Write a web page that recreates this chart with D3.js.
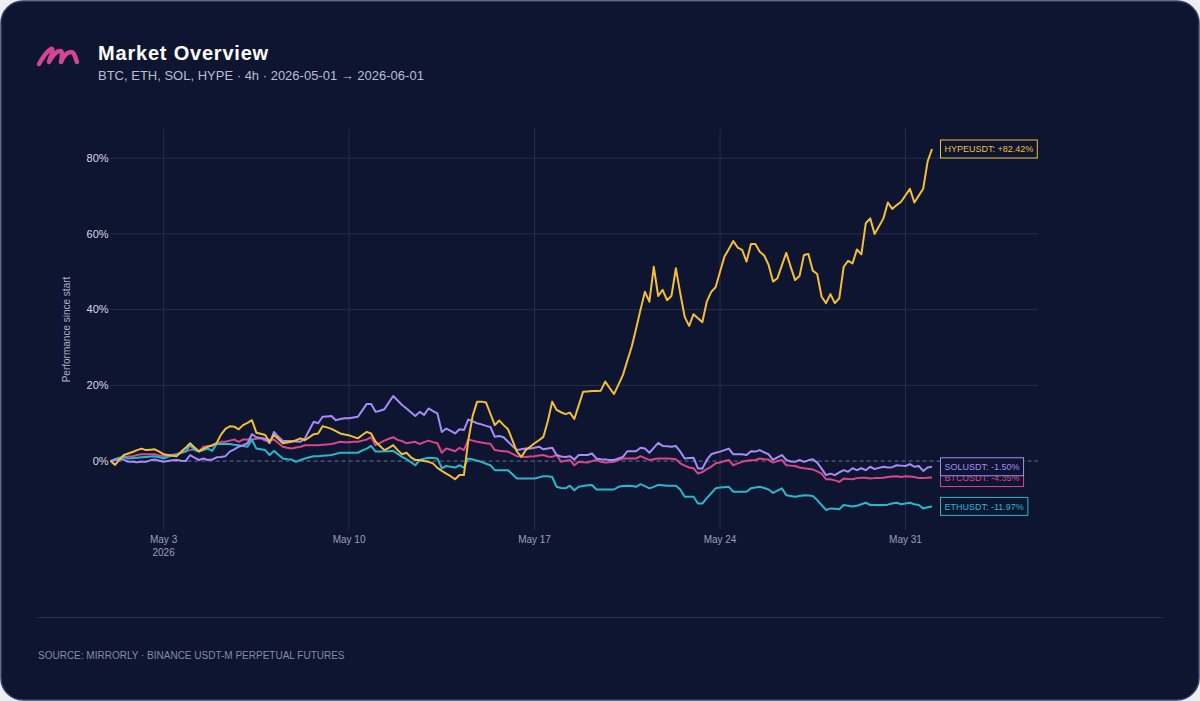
<!DOCTYPE html>
<html>
<head>
<meta charset="utf-8">
<script src="https://cdn.jsdelivr.net/npm/d3@7"></script>
<style>
	html, body { margin: 0; padding: 0; background: #eceef3; }
	svg { display: block; font-family: "Liberation Sans", Arial, Helvetica, sans-serif; }
</style>
</head>
<body>
<svg id="chart" width="1200" height="701"></svg>
<script>
// 4h candles, performance since the first close, in %
const startTime = new Date(2026, 4, 1, 0, 0);
const endDomain = new Date(2026, 5, 5, 0, 0);
const stepHours = 4;

const symbols = ["BTCUSDT", "ETHUSDT", "SOLUSDT", "HYPEUSDT"];
const colours = ["#d9468c", "#2ab7ca", "#a78bfa", "#f4be37"];

const btcValues = [
	0, 0.4, 0.7, 1.0, 1.2, 1.3, 1.6, 1.8, 1.8, 1.8,
	1.8, 1.5, 1.3, 1.5, 1.7, 1.8, 2.2, 2.6, 2.9, 3.2,
	2.5, 3.8, 3.9, 4.0, 4.5, 5.1, 5.1, 5.4, 5.7, 5.1,
	5.7, 5.7, 5.7, 5.9, 6.0, 5.4, 5.6, 5.7, 4.7, 3.8,
	3.5, 3.3, 3.6, 3.8, 4.2, 4.2, 4.2, 4.2, 4.3, 4.4,
	4.5, 4.8, 5.1, 5.0, 5.0, 5.1, 5.1, 5.4, 5.7, 6.3,
	4.2, 4.8, 5.4, 5.9, 6.3, 5.6, 5.3, 4.7, 4.9, 5.1,
	4.5, 5.0, 5.4, 5.0, 4.7, 2.2, 3.3, 3.0, 2.6, 3.5,
	2.9, 5.7, 5.4, 5.1, 4.9, 4.7, 4.6, 2.9, 2.7, 2.6,
	2.5, 1.9, 1.3, 1.2, 1.1, 1.2, 1.3, 1.5, 1.6, 1.2,
	1.1, 1.6, -0.2, 0.1, 0.3, -1.1, -0.2, -0.3, -0.4, 0.0,
	0.3, -0.2, -0.4, -0.3, -0.2, 0.3, 0.7, 0.7, 0.7, 0.7,
	1.3, 0.8, 0.3, 0.5, 0.7, 0.7, 0.7, 0.6, 0.5, -0.6,
	-1.2, -1.7, -1.9, -3.3, -2.9, -2.1, -1.5, -0.6, -0.4, 0.0,
	0.3, -1.1, -0.6, -0.2, 0.1, 0.2, 0.3, 0.7, 0.5, 0.4,
	-0.4, 0.0, 0.3, -1.1, -1.2, -1.3, -1.7, -1.9, -2.0, -2.2,
	-2.7, -3.3, -4.8, -4.8, -5.1, -5.5, -4.6, -4.7, -4.8, -4.5,
	-4.4, -4.4, -4.6, -4.5, -4.5, -4.4, -4.2, -4.1, -4.0, -4.2,
	-4.0, -4.1, -4.2, -4.5, -4.5, -4.4, -4.35
];

const ethValues = [
	0, 0.5, 0.9, 1.1, 0.7, 0.8, 0.9, 1.0, 1.1, 1.2,
	1.3, 1.0, 0.7, 1.1, 1.5, 1.8, 2.2, 2.5, 4.2, 2.9,
	2.5, 2.9, 3.3, 2.7, 4.5, 4.5, 4.5, 4.5, 4.3, 4.2,
	4.0, 3.8, 5.7, 3.3, 3.1, 2.9, 1.6, 2.7, 1.7, 0.7,
	0.5, 0.4, -0.2, 0.3, 0.7, 1.0, 1.3, 1.3, 1.4, 1.5,
	1.6, 1.9, 2.2, 2.2, 2.2, 2.2, 2.2, 2.8, 3.3, 4.0,
	2.5, 2.5, 2.6, 2.6, 2.7, 1.9, 1.1, 0.5, -0.3, -1.1,
	0.3, 0.6, 0.9, 0.8, 0.7, -1.9, -1.3, -1.5, -1.7, -1.1,
	-1.7, 0.7, 0.4, 0.1, -0.2, -0.7, -1.1, -2.4, -2.4, -2.4,
	-2.4, -3.5, -4.6, -4.6, -4.6, -4.6, -4.6, -4.3, -4.0, -4.0,
	-4.2, -6.8, -7.1, -7.2, -6.5, -7.7, -6.8, -6.6, -6.4, -6.3,
	-7.5, -7.5, -7.5, -7.5, -7.5, -6.8, -6.6, -6.5, -6.6, -6.8,
	-6.1, -6.6, -7.2, -6.8, -6.3, -6.4, -6.5, -6.5, -6.5, -7.5,
	-9.4, -9.4, -9.4, -11.2, -11.2, -9.8, -8.5, -7.2, -7.0, -6.9,
	-6.8, -8.1, -8.1, -8.1, -8.1, -7.2, -7.0, -6.8, -7.1, -7.5,
	-8.4, -7.8, -7.2, -9.0, -9.2, -9.4, -9.2, -9.0, -9.1, -9.2,
	-10.3, -11.6, -12.9, -12.5, -12.6, -12.7, -11.6, -11.8, -12.0, -11.8,
	-11.4, -11.0, -11.6, -11.6, -11.6, -11.6, -11.5, -11.2, -11.0, -11.4,
	-11.2, -11.0, -11.4, -11.6, -12.5, -12.2, -11.97
];

const solValues = [
	0, 0.3, 0.5, 0.4, -0.2, -0.2, -0.3, -0.2, -0.2, 0.2,
	0.4, 0.1, -0.2, 0.0, 0.2, 0.3, 0.1, 0.0, 1.6, 0.9,
	0.3, 0.7, 0.3, 0.4, 1.0, 1.1, 1.3, 2.5, 3.1, 3.8,
	4.2, 4.7, 7.1, 6.3, 6.1, 5.9, 4.7, 7.7, 6.4, 5.3,
	5.3, 5.3, 5.2, 5.1, 6.0, 8.2, 10.4, 10.0, 11.7, 11.8,
	11.9, 10.8, 11.1, 11.3, 11.3, 11.5, 11.7, 13.4, 15.1, 15.1,
	13.0, 13.3, 13.7, 15.5, 17.2, 16.0, 14.8, 13.9, 12.9, 11.9,
	13.0, 12.2, 13.9, 13.2, 12.6, 7.7, 8.6, 8.0, 7.3, 8.4,
	8.2, 11.0, 10.5, 10.0, 9.7, 9.3, 9.0, 6.4, 6.6, 6.3,
	5.1, 4.0, 2.9, 3.1, 3.3, 3.3, 3.5, 3.8, 3.1, 3.3,
	3.5, 1.6, 1.2, 1.1, 1.3, 0.4, 1.6, 1.6, 1.6, 2.0,
	0.7, 0.5, 0.4, 0.3, 0.3, 0.7, 1.1, 2.6, 2.6, 2.6,
	3.5, 3.3, 2.2, 3.5, 4.8, 4.0, 3.9, 3.8, 4.0, 2.5,
	0.7, 0.8, 0.9, -1.9, -2.0, 0.3, 1.8, 2.2, 2.5, 2.9,
	3.3, 1.8, 1.8, 1.8, 1.6, 2.6, 2.5, 2.9, 2.3, 1.8,
	0.3, 1.0, 1.6, 0.3, -0.1, -0.2, 0.3, -0.2, 0.2, 0.5,
	-0.4, -2.0, -3.7, -3.3, -3.7, -3.0, -2.4, -2.8, -1.9, -2.4,
	-1.9, -2.4, -1.5, -2.1, -1.8, -1.5, -1.7, -1.6, -1.1, -1.2,
	-1.3, -0.8, -1.5, -1.3, -2.6, -1.7, -1.5
];

const hypeValues = [
	0, -1.0, 0.4, 1.6, 2.0, 2.4, 2.9, 3.3, 2.9, 3.0,
	3.1, 2.5, 1.8, 1.6, 1.4, 1.3, 2.5, 3.5, 4.7, 3.6,
	2.6, 3.2, 3.8, 4.2, 4.7, 7.0, 8.5, 9.2, 9.1, 8.4,
	9.5, 10.1, 10.8, 7.5, 7.2, 6.9, 5.1, 6.9, 5.8, 4.7,
	4.9, 5.1, 5.5, 6.0, 5.5, 6.3, 7.1, 7.3, 9.2, 8.9,
	8.5, 7.9, 7.3, 7.0, 6.8, 6.4, 6.0, 6.9, 7.7, 7.3,
	5.1, 4.0, 2.9, 3.5, 4.2, 2.9, 1.8, 2.2, 1.0, 0.3,
	0.3, 0.0, -0.2, -0.6, -1.8, -2.6, -3.3, -4.0, -4.8, -3.7,
	-3.7, 5.5, 12.0, 15.7, 15.7, 15.5, 12.5, 9.5, 10.7, 9.5,
	8.4, 5.5, 2.5, 1.1, 2.9, 3.8, 4.7, 5.5, 6.4, 10.5,
	15.7, 13.5, 12.9, 12.4, 12.8, 11.1, 14.7, 18.3, 18.4, 18.5,
	18.5, 18.6, 21.0, 19.3, 17.7, 20.2, 22.7, 26.5, 30.2, 35.0,
	40.0, 44.7, 42.1, 51.3, 43.6, 45.2, 42.5, 43.6, 50.9, 44.3,
	38.1, 35.7, 38.8, 37.7, 36.7, 42.1, 44.7, 45.9, 50.0, 54.0,
	56.0, 58.1, 56.4, 55.8, 52.7, 57.3, 57.3, 55.3, 54.3, 51.8,
	47.4, 48.3, 51.7, 55.0, 51.3, 47.8, 48.9, 54.4, 54.7, 50.3,
	49.4, 43.4, 41.7, 44.1, 41.7, 43.0, 51.3, 52.9, 52.2, 55.9,
	54.6, 62.8, 64.1, 60.0, 62.0, 64.1, 68.3, 66.6, 67.6, 68.5,
	70.2, 71.9, 68.3, 70.1, 71.9, 79.1, 82.42
];

const xTickDays = ["2026-05-03", "2026-05-10", "2026-05-17", "2026-05-24", "2026-05-31"];
const yTickValues = [0, 20, 40, 60, 80];

const seriesValues = [btcValues, ethValues, solValues, hypeValues];

function drawCard(svg){
	svg.append("rect")
		.attr("x", 1).attr("y", 1)
		.attr("width", 1198).attr("height", 699)
		.attr("rx", 22)
		.attr("fill", "#0e1530")
		.attr("stroke", "#363f63")
		.attr("stroke-width", 1.5);

	// brush "m" logo
	svg.append("path")
		.attr("d", "M39,64 C43,57 47,51 51,49 C53,48 53,52 51,56 L49,62 C53,55 57,51 60,51 C63,51 62,56 61,62 C64,55 68,52 71,52 C75,52 75,58 77,62")
		.attr("fill", "none")
		.attr("stroke", "#d4468f")
		.attr("stroke-width", 4.5)
		.attr("stroke-linecap", "round")
		.attr("stroke-linejoin", "round");

	svg.append("text")
		.attr("x", 98).attr("y", 60)
		.attr("fill", "#ffffff")
		.attr("font-size", 20)
		.attr("font-weight", "bold")
		.attr("letter-spacing", 0.8)
		.text("Market Overview");

	svg.append("text")
		.attr("x", 98).attr("y", 80)
		.attr("fill", "#b9bed0")
		.attr("font-size", 13)
		.text("BTC, ETH, SOL, HYPE · 4h · 2026-05-01 → 2026-06-01");

	svg.append("line")
		.attr("x1", 37).attr("x2", 1163)
		.attr("y1", 617.5).attr("y2", 617.5)
		.attr("stroke", "#272f4e");

	svg.append("text")
		.attr("x", 38).attr("y", 659)
		.attr("fill", "#868ba5")
		.attr("font-size", 10)
		.text("SOURCE: MIRRORLY · BINANCE USDT-M PERPETUAL FUTURES");
}

function drawChart(svg){
	let margin = {"left": 110.6, "top": 129, "right": 1038, "bottom": 530};
	let parseDay = d3.timeParse("%Y-%m-%d");
	let pct = v => d3.format("+.2f")(v).replace("\u2212", "-");

	let data = symbols.map((s, k) => ({
		key: s,
		colour: colours[k],
		values: seriesValues[k].map((v, i) => ({date: d3.timeHour.offset(startTime, i * stepHours), value: v}))
	}));

	let scaleX = d3.scaleTime()
		.domain([startTime, endDomain])
		.range([margin.left, margin.right]);

	let scaleY = d3.scaleLinear()
		.domain([-18.2, 87.7])
		.range([margin.bottom, margin.top]);

	let grid = svg.append("g").attr("class", "grid");

	grid.selectAll("line.gx")
		.data(xTickDays.map(parseDay))
		.join("line")
		.attr("class", "gx")
		.attr("x1", d => scaleX(d)).attr("x2", d => scaleX(d))
		.attr("y1", margin.top).attr("y2", margin.bottom)
		.attr("stroke", "#262e4c");

	grid.selectAll("line.gy")
		.data(yTickValues.filter(d => d !== 0))
		.join("line")
		.attr("class", "gy")
		.attr("x1", margin.left).attr("x2", margin.right)
		.attr("y1", d => scaleY(d)).attr("y2", d => scaleY(d))
		.attr("stroke", "#262e4c");

	grid.append("line")
		.attr("x1", margin.left).attr("x2", margin.right)
		.attr("y1", scaleY(0)).attr("y2", scaleY(0))
		.attr("stroke", "#6a7190")
		.attr("stroke-dasharray", "4,3");

	// y tick labels
	svg.append("g")
		.selectAll("text")
		.data(yTickValues)
		.join("text")
		.attr("x", margin.left - 2)
		.attr("y", d => scaleY(d))
		.attr("dy", "0.35em")
		.attr("text-anchor", "end")
		.attr("font-size", 11)
		.attr("fill", "#d6d9e4")
		.text(d => d + "%");

	svg.append("text")
		.attr("transform", "translate(70," + ((margin.top + margin.bottom) / 2) + ") rotate(-90)")
		.attr("text-anchor", "middle")
		.attr("font-size", 10)
		.attr("fill", "#aeb3c6")
		.text("Performance since start");

	// x tick labels
	let dayFormat = d3.timeFormat("%b %-d");
	svg.append("g")
		.selectAll("text")
		.data(xTickDays.map(parseDay))
		.join("text")
		.attr("x", d => scaleX(d))
		.attr("y", 543)
		.attr("text-anchor", "middle")
		.attr("font-size", 10)
		.attr("fill", "#9aa0b8")
		.text(d => dayFormat(d));

	svg.append("text")
		.attr("x", scaleX(parseDay(xTickDays[0])))
		.attr("y", 556)
		.attr("text-anchor", "middle")
		.attr("font-size", 10)
		.attr("fill", "#9aa0b8")
		.text(d3.timeFormat("%Y")(parseDay(xTickDays[0])));

	let line = d3.line()
		.x(d => scaleX(d.date))
		.y(d => scaleY(d.value));

	svg.append("g")
		.selectAll("path")
		.data(data)
		.join("path")
		.attr("d", d => line(d.values))
		.attr("fill", "none")
		.attr("stroke", d => d.colour)
		.attr("stroke-width", 2)
		.attr("stroke-linejoin", "round");

	// end labels
	let labels = svg.append("g")
		.selectAll("g")
		.data(data)
		.join("g")
		.attr("transform", function(d){
			let last = d.values[d.values.length - 1];
			return "translate(" + (scaleX(last.date) + 8.5) + "," + scaleY(last.value) + ")";
		});

	let boxes = labels.append("rect");
	let texts = labels.append("text")
		.attr("x", 4)
		.attr("dy", "0.35em")
		.attr("font-size", 9)
		.attr("fill", d => d.colour)
		.text(d => d.key + ": " + pct(d.values[d.values.length - 1].value) + "%");

	boxes
		.attr("x", 0)
		.attr("y", -9)
		.attr("height", 18)
		.attr("width", function(d, i){ return texts.nodes()[i].getComputedTextLength() + 8; })
		.attr("fill", "#0e1530")
		.attr("stroke", d => d.colour)
		.attr("stroke-width", 1);
}

let svg = d3.select("#chart");
drawCard(svg);
drawChart(svg);
</script>
</body>
</html>
